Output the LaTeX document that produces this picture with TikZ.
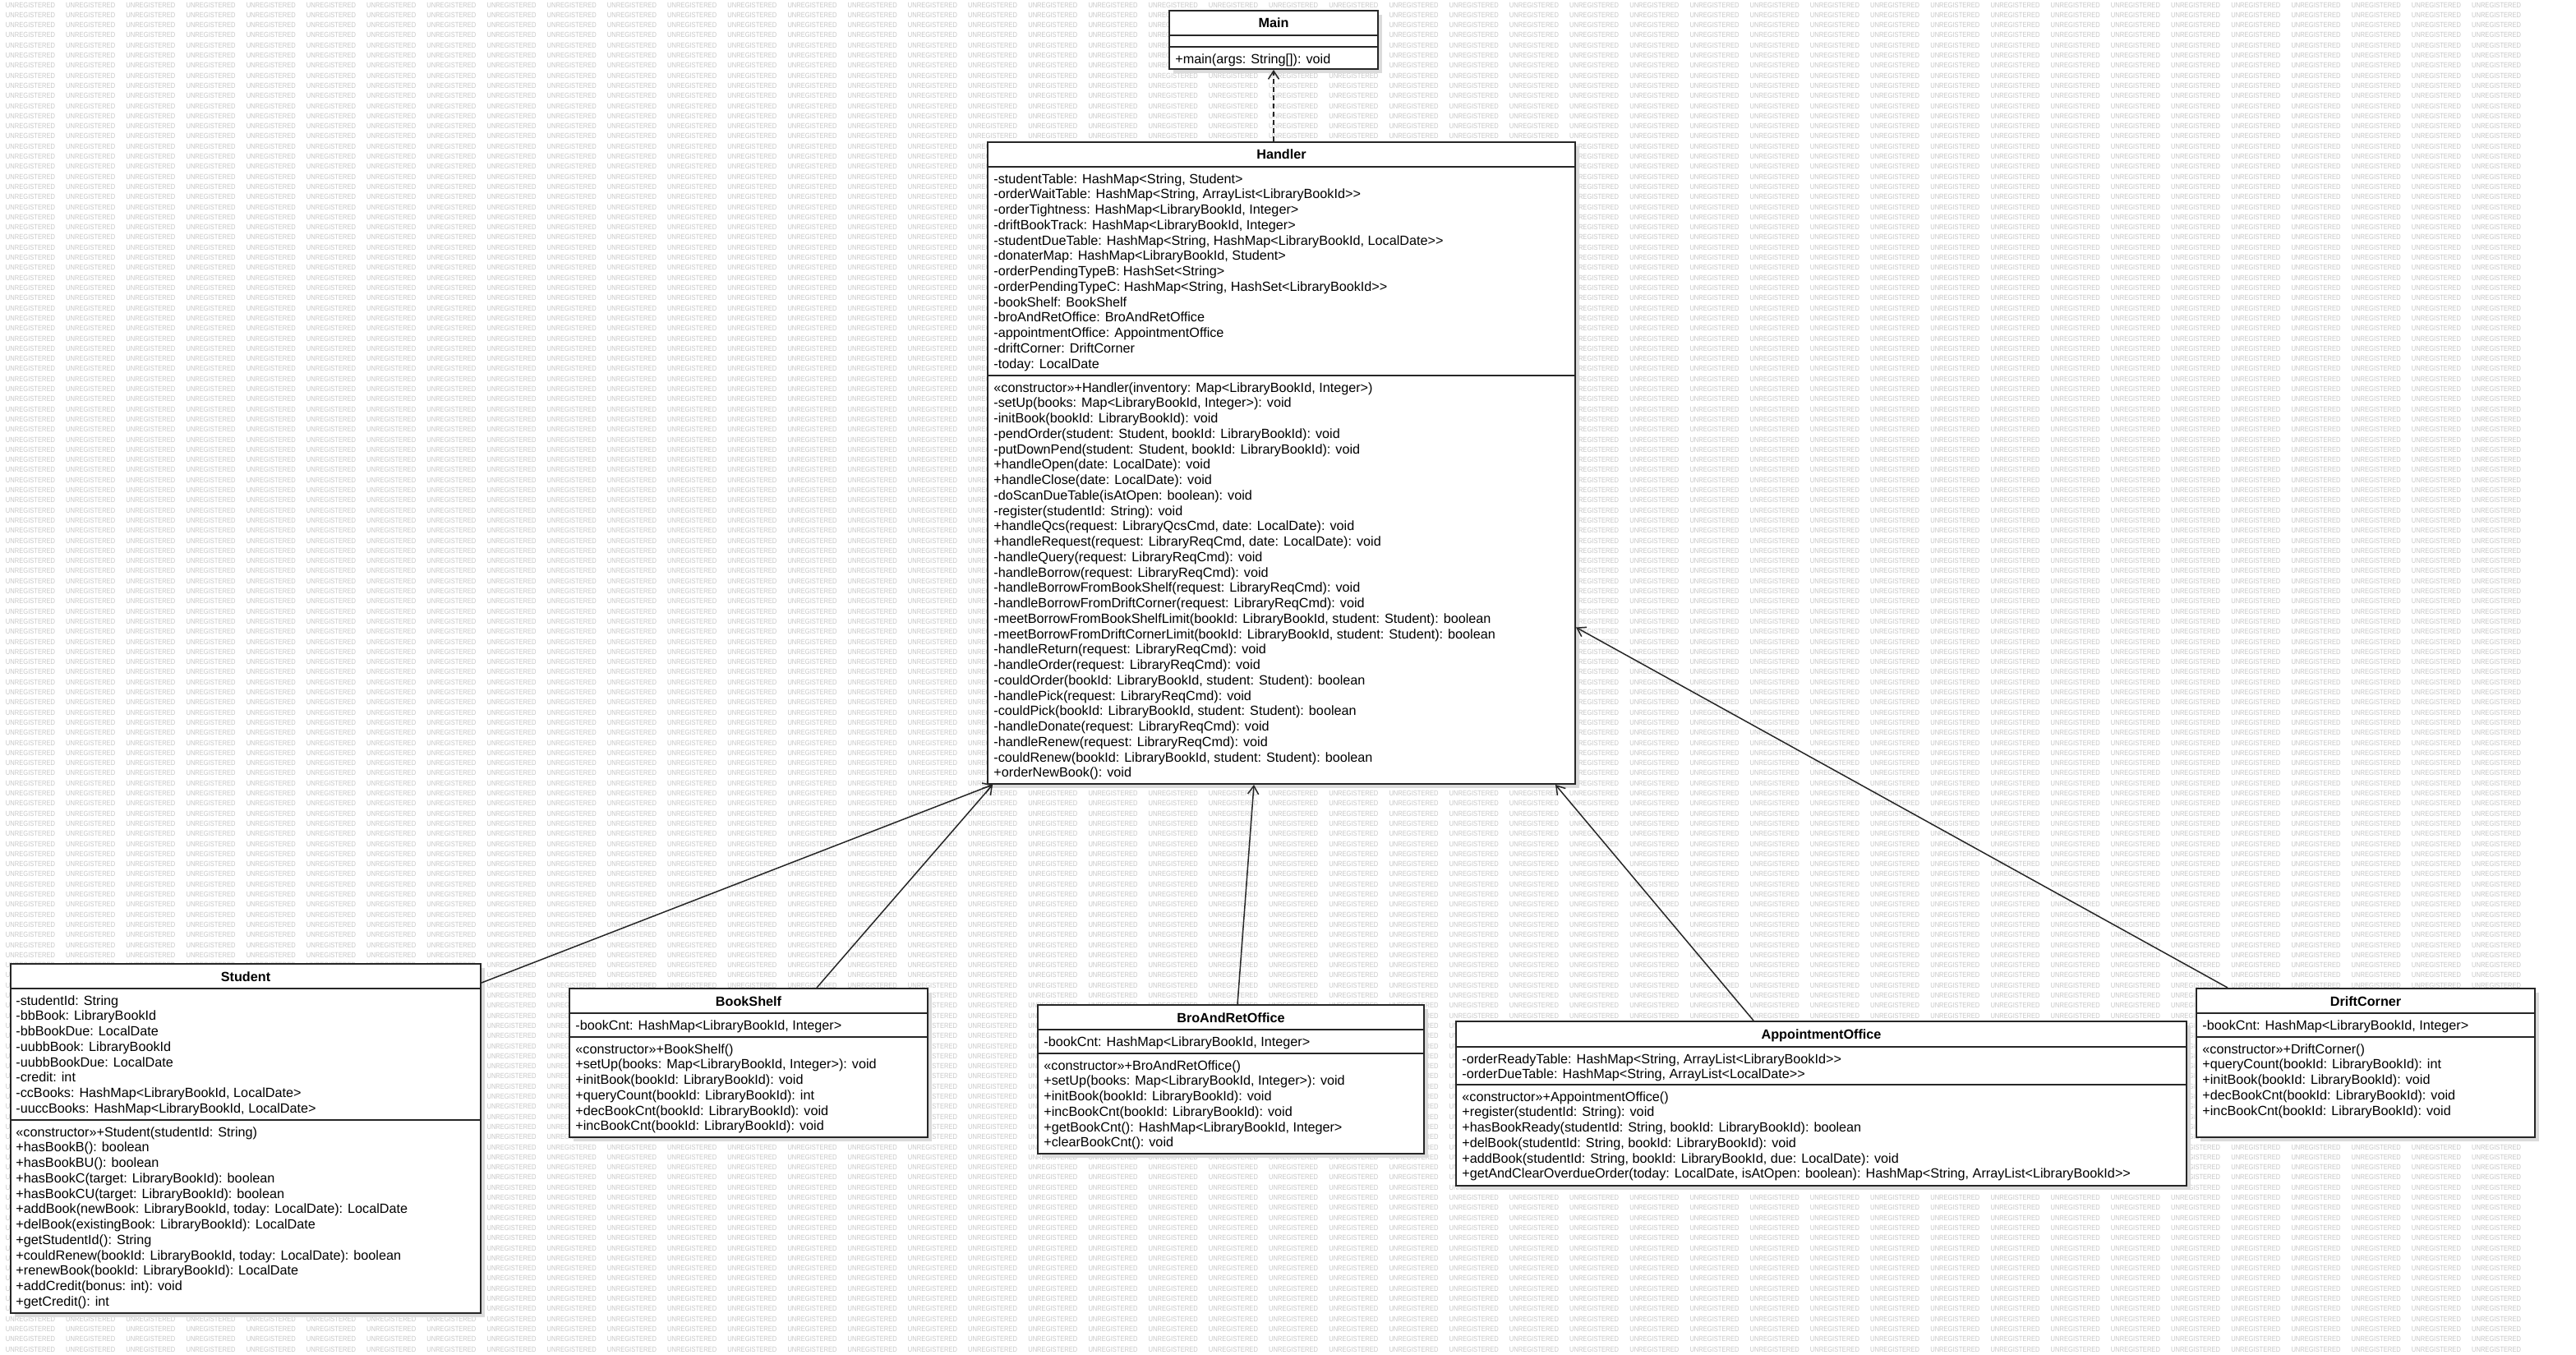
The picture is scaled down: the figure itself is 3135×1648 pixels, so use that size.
\documentclass[tikz,border=0pt]{standalone}
\usepackage{fontspec}
\setmainfont{Liberation Sans}
\newfontfamily\LibUmlMarkFont{Liberation Sans}[FakeStretch=0.84]
\usetikzlibrary{arrows.meta,fit,shadows}

\def\LibUmlTextSize{8.1pt}
\def\LibUmlLineSkip{9.375pt}
\def\LibUmlBoxLW{1pt}
\def\LibUmlEdgeLW{0.75pt}
\def\LibUmlMarkSize{4.5pt}
\newcommand{\LibUmlStyles}{%
  \tikzset{
    umlbox/.style={draw=black!85, fill=white, line width=\LibUmlBoxLW, inner sep=0pt,
      drop shadow={shadow xshift=2.6pt, shadow yshift=-2.6pt, fill=black!14, opacity=1}},
    umlsep/.style={draw=black!85, line width=\LibUmlBoxLW},
    umltitle/.style={font=\fontsize{\LibUmlTextSize}{\LibUmlLineSkip}\selectfont\bfseries,
      inner sep=0pt, anchor=base},
    umltext/.style={font=\fontsize{\LibUmlTextSize}{\LibUmlLineSkip}\selectfont,
      align=left, anchor=north west, inner sep=0pt},
    umlassoc/.style={
      -{Straight Barb[length=5pt, width=6.5pt]},
      line width=\LibUmlEdgeLW, black!85},
    umldep/.style={umlassoc, dash pattern=on 3pt off 2pt},
    umlmark/.style={font=\LibUmlMarkFont\fontsize{\LibUmlMarkSize}{\LibUmlMarkSize}\selectfont,
      text=black!22, inner sep=0pt, anchor=west},
  }%
}
% box, two compartment lines and the class name
\newcommand{\LibUmlClass}[8]{%
  \node[umlbox, fit={(#2,#3) (#4,#5)}] (#1) {};
  \draw[umlsep] (#2,#6) -- (#4,#6);
  \draw[umlsep] (#2,#7) -- (#4,#7);
  \node[umltitle] (#1Title) at ({(#2+#4)/2},{(#3+#6)/2+6}) {#8};
}
\newcommand{\LibUmlMarkRow}{%
  \hbox to 1570pt{\leaders\hbox to 36.6pt{\hss UNREGISTERED\hss}\hfill}}

\begin{document}
\begin{tikzpicture}[x=0.5pt, y=-0.5pt]
  \LibUmlStyles
  \useasboundingbox (0,0) rectangle (3135,1648);

  % watermark
  \foreach \r in {0,...,134}
    \node[umlmark] (wm\r) at (0,{6+\r*12.3}) {\LibUmlMarkRow};

  % classes
  \LibUmlClass{main}{1423}{13}{1677}{84}{43}{57}{Main}
  \node[umltext] (mainOps) at (1430,65) {+main(args: String[]): void};

  \LibUmlClass{handler}{1202}{173}{1917}{954}{203}{457}{Handler}
  \node[umltext] (handlerAttrs) at (1209,211) {%
    -studentTable: HashMap<String, Student>\\
    -orderWaitTable: HashMap<String, ArrayList<LibraryBookId>{}>\\
    -orderTightness: HashMap<LibraryBookId, Integer>\\
    -driftBookTrack: HashMap<LibraryBookId, Integer>\\
    -studentDueTable: HashMap<String, HashMap<LibraryBookId, LocalDate>{}>\\
    -donaterMap: HashMap<LibraryBookId, Student>\\
    -orderPendingTypeB: HashSet<String>\\
    -orderPendingTypeC: HashMap<String, HashSet<LibraryBookId>{}>\\
    -bookShelf: BookShelf\\
    -broAndRetOffice: BroAndRetOffice\\
    -appointmentOffice: AppointmentOffice\\
    -driftCorner: DriftCorner\\
    -today: LocalDate};
  \node[umltext] (handlerOps) at (1209,465) {%
    «constructor»+Handler(inventory: Map<LibraryBookId, Integer>)\\
    -setUp(books: Map<LibraryBookId, Integer>): void\\
    -initBook(bookId: LibraryBookId): void\\
    -pendOrder(student: Student, bookId: LibraryBookId): void\\
    -putDownPend(student: Student, bookId: LibraryBookId): void\\
    +handleOpen(date: LocalDate): void\\
    +handleClose(date: LocalDate): void\\
    -doScanDueTable(isAtOpen: boolean): void\\
    -register(studentId: String): void\\
    +handleQcs(request: LibraryQcsCmd, date: LocalDate): void\\
    +handleRequest(request: LibraryReqCmd, date: LocalDate): void\\
    -handleQuery(request: LibraryReqCmd): void\\
    -handleBorrow(request: LibraryReqCmd): void\\
    -handleBorrowFromBookShelf(request: LibraryReqCmd): void\\
    -handleBorrowFromDriftCorner(request: LibraryReqCmd): void\\
    -meetBorrowFromBookShelfLimit(bookId: LibraryBookId, student: Student): boolean\\
    -meetBorrowFromDriftCornerLimit(bookId: LibraryBookId, student: Student): boolean\\
    -handleReturn(request: LibraryReqCmd): void\\
    -handleOrder(request: LibraryReqCmd): void\\
    -couldOrder(bookId: LibraryBookId, student: Student): boolean\\
    -handlePick(request: LibraryReqCmd): void\\
    -couldPick(bookId: LibraryBookId, student: Student): boolean\\
    -handleDonate(request: LibraryReqCmd): void\\
    -handleRenew(request: LibraryReqCmd): void\\
    -couldRenew(bookId: LibraryBookId, student: Student): boolean\\
    +orderNewBook(): void};

  \LibUmlClass{student}{13}{1173}{585}{1598}{1203}{1363}{Student}
  \node[umltext] (studentAttrs) at (19,1211) {%
    -studentId: String\\
    -bbBook: LibraryBookId\\
    -bbBookDue: LocalDate\\
    -uubbBook: LibraryBookId\\
    -uubbBookDue: LocalDate\\
    -credit: int\\
    -ccBooks: HashMap<LibraryBookId, LocalDate>\\
    -uuccBooks: HashMap<LibraryBookId, LocalDate>};
  \node[umltext] (studentOps) at (19,1371) {%
    «constructor»+Student(studentId: String)\\
    +hasBookB(): boolean\\
    +hasBookBU(): boolean\\
    +hasBookC(target: LibraryBookId): boolean\\
    +hasBookCU(target: LibraryBookId): boolean\\
    +addBook(newBook: LibraryBookId, today: LocalDate): LocalDate\\
    +delBook(existingBook: LibraryBookId): LocalDate\\
    +getStudentId(): String\\
    +couldRenew(bookId: LibraryBookId, today: LocalDate): boolean\\
    +renewBook(bookId: LibraryBookId): LocalDate\\
    +addCredit(bonus: int): void\\
    +getCredit(): int};

  \LibUmlClass{bookShelf}{693}{1203}{1129}{1384}{1233}{1262}{BookShelf}
  \node[umltext] (bookShelfAttrs) at (700,1241) {-bookCnt: HashMap<LibraryBookId, Integer>};
  \node[umltext] (bookShelfOps) at (700,1270) {%
    «constructor»+BookShelf()\\
    +setUp(books: Map<LibraryBookId, Integer>): void\\
    +initBook(bookId: LibraryBookId): void\\
    +queryCount(bookId: LibraryBookId): int\\
    +decBookCnt(bookId: LibraryBookId): void\\
    +incBookCnt(bookId: LibraryBookId): void};

  \LibUmlClass{broAndRet}{1263}{1223}{1733}{1404}{1253}{1282}{BroAndRetOffice}
  \node[umltext] (broAndRetAttrs) at (1270,1261) {-bookCnt: HashMap<LibraryBookId, Integer>};
  \node[umltext] (broAndRetOps) at (1270,1290) {%
    «constructor»+BroAndRetOffice()\\
    +setUp(books: Map<LibraryBookId, Integer>): void\\
    +initBook(bookId: LibraryBookId): void\\
    +incBookCnt(bookId: LibraryBookId): void\\
    +getBookCnt(): HashMap<LibraryBookId, Integer>\\
    +clearBookCnt(): void};

  \LibUmlClass{appointment}{1772}{1243}{2661}{1443}{1274}{1320}{AppointmentOffice}
  \node[umltext] (appointmentAttrs) at (1779,1282) {%
    -orderReadyTable: HashMap<String, ArrayList<LibraryBookId>{}>\\
    -orderDueTable: HashMap<String, ArrayList<LocalDate>{}>};
  \node[umltext] (appointmentOps) at (1779,1328) {%
    «constructor»+AppointmentOffice()\\
    +register(studentId: String): void\\
    +hasBookReady(studentId: String, bookId: LibraryBookId): boolean\\
    +delBook(studentId: String, bookId: LibraryBookId): void\\
    +addBook(studentId: String, bookId: LibraryBookId, due: LocalDate): void\\
    +getAndClearOverdueOrder(today: LocalDate, isAtOpen: boolean): HashMap<String, ArrayList<LibraryBookId>{}>};

  \LibUmlClass{driftCorner}{2673}{1203}{3085}{1384}{1233}{1262}{DriftCorner}
  \node[umltext] (driftCornerAttrs) at (2680,1241) {-bookCnt: HashMap<LibraryBookId, Integer>};
  \node[umltext] (driftCornerOps) at (2680,1270) {%
    «constructor»+DriftCorner()\\
    +queryCount(bookId: LibraryBookId): int\\
    +initBook(bookId: LibraryBookId): void\\
    +decBookCnt(bookId: LibraryBookId): void\\
    +incBookCnt(bookId: LibraryBookId): void};

  % connectors
  \draw[umldep] (handler.north -| main.south) -- (main.south);
  \draw[umlassoc] ([yshift=-12pt]student.north east) -- ([xshift=3.5pt]handler.south west);
  \draw[umlassoc] ([xshift=41.5pt]bookShelf.north) -- ([xshift=3.5pt]handler.south west);
  \draw[umlassoc] ([xshift=4pt]broAndRet.north) -- ([xshift=-16.75pt]handler.south);
  \draw[umlassoc] ([xshift=-41.25pt]appointment.north) -- ([xshift=-12.5pt]handler.south east);
  \draw[umlassoc] ([xshift=19.5pt]driftCorner.north west) -- ([yshift=-100pt]handler.east);
\end{tikzpicture}
\end{document}
